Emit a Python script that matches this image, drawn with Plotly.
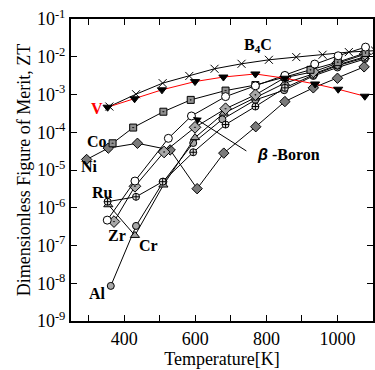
import plotly.graph_objects as go
import math

# ---- data (Temperature [K], ZT) ----
b4c_T = [358, 433, 508, 583, 654, 730, 807, 884, 958, 1032, 1106]
b4c_ZT = [4.8e-4, 1.02e-3, 2.0e-3, 3.1e-3, 4.8e-3, 6.5e-3, 8.3e-3, 9.8e-3, 1.13e-2, 1.33e-2, 1.45e-2]

v_T = [353, 429, 506, 599, 679, 769, 852, 937, 1002, 1077]
v_ZT = [4.6e-4, 7.7e-4, 1.33e-3, 2.2e-3, 2.9e-3, 3.5e-3, 2.7e-3, 1.9e-3, 1.38e-3, 9.0e-4]

co_T = [367, 425, 510, 587, 685, 769, 852, 924, 1001, 1079]
co_ZT = [5.1e-5, 1.33e-4, 3.5e-4, 7.2e-4, 1.27e-3, 1.78e-3, 2.9e-3, 4.5e-3, 7.2e-3, 1.26e-2]

boron_T = [352, 430, 524, 589, 685, 769, 852, 936, 1002, 1079]
boron_ZT = [4.7e-7, 5.1e-6, 6.9e-5, 2.7e-4, 8.8e-4, 1.7e-3, 3.2e-3, 6.4e-3, 1.06e-2, 1.8e-2]

ni_T = [294, 355, 437, 529, 605, 680, 770, 852, 932, 1000, 1075]
ni_ZT = [1.9e-5, 3.8e-5, 5.1e-5, 3.4e-5, 3.2e-6, 2.8e-5, 1.4e-4, 6.5e-4, 1.5e-3, 2.7e-3, 5.4e-3]

ru_T = [353, 433, 508, 594, 685, 769, 852, 932, 1000, 1077]
ru_ZT = [1.45e-6, 1.95e-6, 4.9e-6, 2.95e-5, 1.6e-4, 4.8e-4, 1.5e-3, 3.3e-3, 5.8e-3, 9.4e-3]

zr_T = [371, 430, 512, 599, 685, 769, 852, 932, 1000, 1077]
zr_ZT = [4.3e-7, 3.7e-6, 3.0e-5, 1.35e-4, 4.2e-4, 9.8e-4, 2.8e-3, 4.0e-3, 6.7e-3, 1.16e-2]

cr_T = [355, 430, 510, 599, 680, 769, 852, 932, 1000, 1077]
cr_ZT = [1.2e-6, 1.85e-7, 4.0e-6, 7.2e-5, 3.2e-4, 8.1e-4, 2.0e-3, 3.5e-3, 6.1e-3, 1.0e-2]

al_T = [362, 433, 510, 594, 676, 769, 850, 932, 1000, 1077]
al_ZT = [8.5e-9, 3.3e-7, 4.9e-6, 5.2e-5, 2.2e-4, 7.2e-4, 1.3e-3, 3.1e-3, 5.2e-3, 8.7e-3]

x_tickvals = [300, 400, 500, 600, 700, 800, 900, 1000]
x_ticktext = ["", "400", "", "600", "", "800", "", "1000"]
y_exponents = [-9, -8, -7, -6, -5, -4, -3, -2, -1]

FONT = "Liberation Serif"

fig = go.Figure()

def add(T, Z, symbol, fill, size=7, line_color="black", lw=1, mline="black"):
    fig.add_trace(go.Scatter(
        x=T, y=Z, mode="lines+markers",
        line=dict(color=line_color, width=lw),
        marker=dict(symbol=symbol, size=size, color=fill,
                    line=dict(color=mline, width=1)),
        showlegend=False))

add(b4c_T, b4c_ZT, "x-thin-open", "black", size=8, mline="black")
add(ni_T, ni_ZT, "diamond", "#7a7a7a", size=8)
add(al_T, al_ZT, "circle", "#a8a8a8", size=7)
add(cr_T, cr_ZT, "triangle-up", "#a0a0a0", size=8)
add(ru_T, ru_ZT, "circle-cross", "#dddddd", size=7)
add(zr_T, zr_ZT, "diamond-dot", "#a8a8a8", size=9)
add(co_T, co_ZT, "square-dot", "#909090", size=7)
add(boron_T, boron_ZT, "circle", "white", size=8)
add(v_T, v_ZT, "triangle-down", "black", size=8, line_color="red")

labels = [
    ("B<sub>4</sub>C", 776, -1.71, "center", "black"),
    ("V", 322, -3.36, "center", "red"),
    ("Co", 322, -4.25, "center", "black"),
    ("Ni", 301.5, -4.895, "center", "black"),
    ("Ru", 339, -5.60, "center", "black"),
    ("Zr", 380, -6.73, "center", "black"),
    ("Cr", 468, -6.99, "center", "black"),
    ("Al", 324, -8.27, "center", "black"),
]
for t, x, y, xa, c in labels:
    fig.add_annotation(x=x, y=y, xref="x", yref="y", text="<b>" + t + "</b>",
                       showarrow=False, xanchor=xa, yanchor="middle",
                       font=dict(family=FONT, size=16, color=c))

fig.add_annotation(x=768, y=-4.60, xref="x", yref="y",
                   text="<b><i><span style='font-family:Liberation Sans'>β</span></i> -Boron</b>",
                   showarrow=False, xanchor="left", yanchor="middle",
                   font=dict(family=FONT, size=16, color="black"))
fig.add_annotation(x=593, y=math.log10(2.55e-4), xref="x", yref="y",
                   ax=55, ay=35, axref="pixel", ayref="pixel",
                   text="", showarrow=True, arrowhead=2, arrowsize=1.6,
                   arrowwidth=1, arrowcolor="black", standoff=0)

fig.update_layout(
    width=375, height=370,
    margin=dict(l=71, r=2, t=19, b=49, autoexpand=False),
    paper_bgcolor="white", plot_bgcolor="white",
    font=dict(family=FONT, size=17, color="black"),
    xaxis=dict(range=[250, 1100], tickvals=x_tickvals, ticktext=x_ticktext,
               ticks="inside", ticklen=6, tickwidth=1, tickcolor="black",
               showline=True, linewidth=2, linecolor="black", mirror="ticks",
               showgrid=False, zeroline=False,
               tickfont=dict(family=FONT, size=18),
               title=dict(text="Temperature[K]", font=dict(family=FONT, size=18), standoff=2)),
    yaxis=dict(type="log", range=[-9, -1],
               tickvals=[10 ** e for e in y_exponents],
               ticktext=["10<sup>%d</sup>" % e for e in y_exponents],
               ticks="inside", ticklen=6, tickwidth=1, tickcolor="black",
               showline=True, linewidth=2, linecolor="black", mirror="ticks",
               showgrid=False, zeroline=False,
               tickfont=dict(family=FONT, size=18),
               title=dict(text="Dimensionless Figure of Merit, ZT",
                          font=dict(family=FONT, size=18), standoff=2)),
)

fig.write_html("out.html", config={"displayModeBar": False},
               post_script="document.body.style.margin='0';document.body.style.padding='0';")
